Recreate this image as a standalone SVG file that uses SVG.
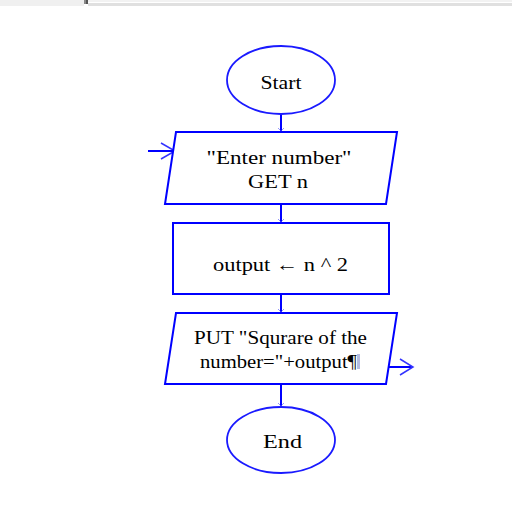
<svg xmlns="http://www.w3.org/2000/svg" width="512" height="517" viewBox="0 0 512 517">
<style>
.shape{fill:#fff;stroke:#0000ff;stroke-width:2}
.ell{fill:#fff;stroke:#1a1aff;stroke-width:1.8}
.conn{fill:none;stroke:#0000ff;stroke-width:2}
.tick{fill:none;stroke:#4d4dff;stroke-width:1;opacity:0.6}
.chev{fill:none;stroke:#3333ff;stroke-width:1.5}
.t{font-family:"Liberation Serif","Times New Roman",serif;font-size:19px;fill:#000;text-anchor:middle}
</style>
<rect x="0" y="0" width="512" height="517" fill="#fff"/>
<g id="topbar">
<rect x="0" y="0" width="84" height="6" fill="#f0f0f0"/>
<rect x="84" y="0" width="2" height="4" fill="#8a8a8a"/>
<rect x="86" y="0" width="2" height="4" fill="#555"/>
<rect x="88" y="0" width="424" height="2" fill="#f2f2f2"/>
<rect x="88" y="3" width="424" height="3" fill="#e0e0e0"/>
</g>
<g id="connectors">
<line class="conn" x1="281" y1="113" x2="281" y2="132"/>
<polyline class="tick" points="278,128 281,131 284,128"/>
<line class="conn" x1="281" y1="204" x2="281" y2="223"/>
<polyline class="tick" points="278,219 281,222 284,219"/>
<line class="conn" x1="281" y1="294" x2="281" y2="313"/>
<polyline class="tick" points="278,309 281,312 284,309"/>
<line class="conn" x1="281" y1="384" x2="281" y2="407"/>
<polyline class="tick" points="278,403 281,406 284,403"/>
<line class="conn" x1="148" y1="151" x2="174" y2="151"/>
<polyline class="chev" points="161,143 175,151 161,159"/>
<line class="conn" x1="387" y1="367" x2="412" y2="367"/>
<polyline class="chev" points="400,359 413,367 400,375"/>
</g>
<g id="start">
<ellipse class="ell" cx="281" cy="80" rx="54" ry="34"/>
<text class="t" x="281" y="89" textLength="41" lengthAdjust="spacingAndGlyphs">Start</text>
</g>
<g id="input">
<polygon class="shape" points="176,132 397,132 386,204 165,204"/>
<text class="t" x="279" y="164" textLength="145" lengthAdjust="spacingAndGlyphs">"Enter number"</text>
<text class="t" x="278" y="188" textLength="60" lengthAdjust="spacingAndGlyphs">GET n</text>
</g>
<g id="process">
<rect class="shape" x="173" y="223" width="216" height="71"/>
<text class="t" x="280.5" y="271" textLength="135" lengthAdjust="spacingAndGlyphs">output ← n ^ 2</text>
</g>
<g id="output">
<polygon class="shape" points="176,313 397,313 386,384 165,384"/>
<text class="t" x="280.5" y="344" textLength="173" lengthAdjust="spacingAndGlyphs">PUT "Squrare of the</text>
<text class="t" x="278.5" y="368" textLength="157" lengthAdjust="spacingAndGlyphs">number="+output¶</text>
<rect x="357" y="354" width="3" height="15" fill="#b4bce0"/>
</g>
<g id="end">
<ellipse class="ell" cx="281" cy="440" rx="54" ry="33"/>
<text class="t" x="282.5" y="448" textLength="39" lengthAdjust="spacingAndGlyphs">End</text>
</g>
</svg>
